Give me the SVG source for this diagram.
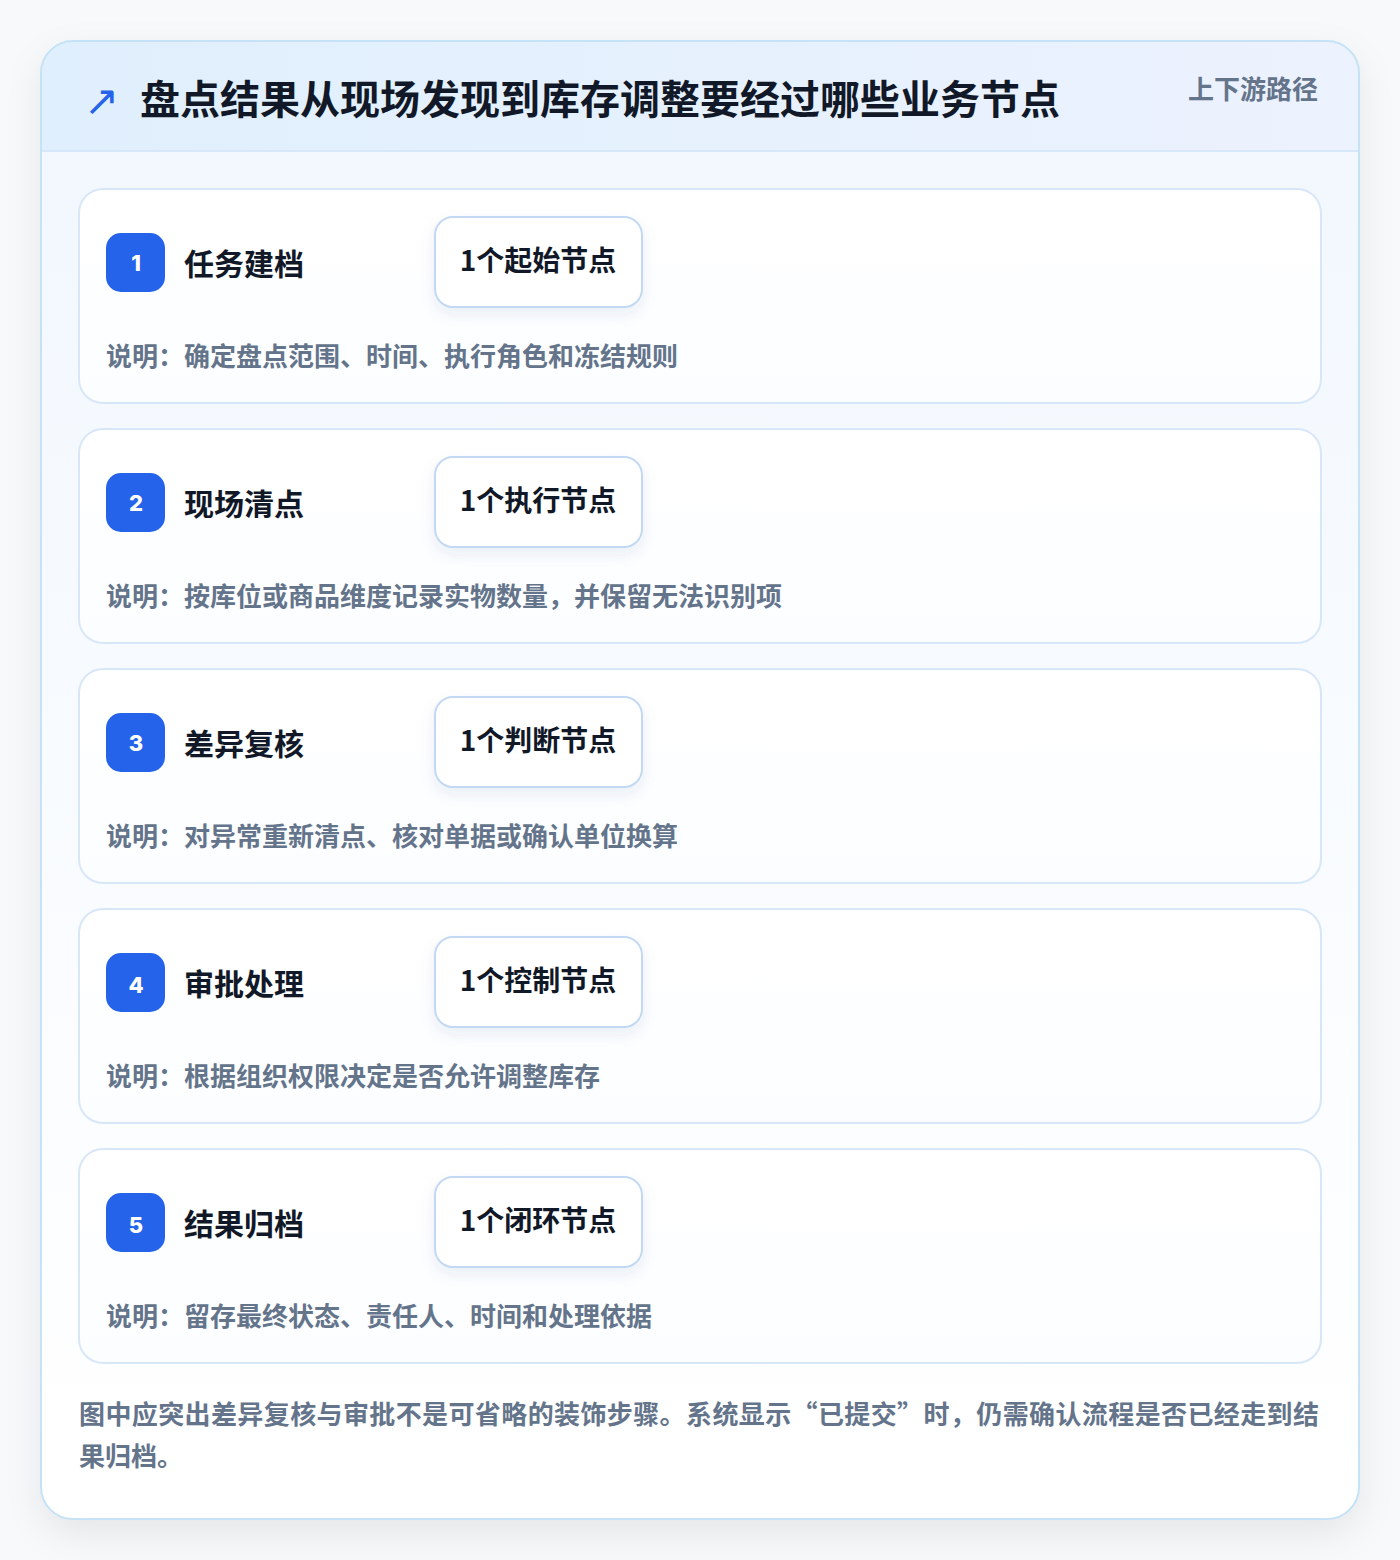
<svg xmlns="http://www.w3.org/2000/svg" width="1400" height="1560" viewBox="0 0 1400 1560">
<defs>
<linearGradient id="bodyGrad" x1="0" y1="0" x2="0" y2="1">
<stop offset="0" stop-color="#f1f7fe"/>
<stop offset="1" stop-color="#ffffff"/>
</linearGradient>
<linearGradient id="headGrad" x1="0" y1="0" x2="1" y2="0">
<stop offset="0" stop-color="#e0effd"/>
<stop offset="1" stop-color="#ecf2fe"/>
</linearGradient>
<linearGradient id="stepGrad" x1="0" y1="0" x2="0" y2="1">
<stop offset="0" stop-color="#ffffff"/>
<stop offset="1" stop-color="#fbfdff"/>
</linearGradient>
<filter id="cardShadow" x="-10%" y="-10%" width="120%" height="120%">
<feDropShadow dx="0" dy="14" stdDeviation="18" flood-color="#0f172a" flood-opacity="0.08"/>
</filter>
<filter id="pillShadow" x="-20%" y="-30%" width="140%" height="170%">
<feDropShadow dx="0" dy="6" stdDeviation="7" flood-color="#1e3a8a" flood-opacity="0.08"/>
</filter>
<clipPath id="cardClip"><rect x="41" y="41" width="1318" height="1478" rx="32"/></clipPath>
</defs>
<style>
.step{fill:url(#stepGrad);stroke:#d8e7f8;stroke-width:2}
.badge{fill:#2563eb}
.num{font-family:Inter,"Liberation Sans",sans-serif;font-weight:800;font-size:22px;fill:#ffffff;text-anchor:middle}
.title{font-family:"Noto Sans CJK SC","Noto Sans",sans-serif;font-weight:700;font-size:30px;fill:#111827}
.pill{fill:#ffffff;stroke:#c2d8f3;stroke-width:2}
.pilltext{font-family:"Noto Sans CJK SC","Noto Sans",sans-serif;font-weight:700;font-size:28px;fill:#111827;text-anchor:middle}
.desc{font-family:"Noto Sans CJK SC","Noto Sans",sans-serif;font-weight:700;font-size:26px;fill:#64748b}
.foot{font-family:"Noto Sans CJK SC","Noto Sans",sans-serif;font-weight:700;font-size:26px;fill:#64748b}
</style>
<rect x="0" y="0" width="1400" height="1560" fill="#f8f9fb"/>
<rect x="41" y="41" width="1318" height="1478" rx="32" fill="url(#bodyGrad)" filter="url(#cardShadow)"/>
<g clip-path="url(#cardClip)">
<rect x="41" y="41" width="1318" height="110" fill="url(#headGrad)"/>
<line x1="41" y1="151" x2="1359" y2="151" stroke="#d6e8fa" stroke-width="2"/>
</g>
<rect x="41" y="41" width="1318" height="1478" rx="32" fill="none" stroke="#c5e2f7" stroke-width="2"/>
<g id="header">
<text x="84" y="115" font-family="'DejaVu Sans',sans-serif" font-size="42" fill="#2563eb">↗</text>
<text x="140" y="114" font-family="'Noto Sans CJK SC','Noto Sans',sans-serif" font-weight="700" font-size="40" fill="#111827">盘点结果从现场发现到库存调整要经过哪些业务节点</text>
<text x="1318" y="99" text-anchor="end" font-family="'Noto Sans CJK SC','Noto Sans',sans-serif" font-weight="700" font-size="26" fill="#64748b">上下游路径</text>
</g>
<g id="step1">
<rect class="step" x="79" y="189" width="1242" height="214" rx="24"/>
<rect class="badge" x="106" y="233" width="59" height="59" rx="15"/>
<text class="num" x="136" y="271">1</text>
<text class="title" x="184" y="275">任务建档</text>
<rect class="pill" x="435" y="217" width="207" height="90" rx="18" filter="url(#pillShadow)"/>
<text class="pilltext" x="538" y="271">1个起始节点</text>
<text class="desc" x="106" y="366">说明：确定盘点范围、时间、执行角色和冻结规则</text>
</g>
<g id="step2">
<rect class="step" x="79" y="429" width="1242" height="214" rx="24"/>
<rect class="badge" x="106" y="473" width="59" height="59" rx="15"/>
<text class="num" x="136" y="511">2</text>
<text class="title" x="184" y="515">现场清点</text>
<rect class="pill" x="435" y="457" width="207" height="90" rx="18" filter="url(#pillShadow)"/>
<text class="pilltext" x="538" y="511">1个执行节点</text>
<text class="desc" x="106" y="606">说明：按库位或商品维度记录实物数量，并保留无法识别项</text>
</g>
<g id="step3">
<rect class="step" x="79" y="669" width="1242" height="214" rx="24"/>
<rect class="badge" x="106" y="713" width="59" height="59" rx="15"/>
<text class="num" x="136" y="751">3</text>
<text class="title" x="184" y="755">差异复核</text>
<rect class="pill" x="435" y="697" width="207" height="90" rx="18" filter="url(#pillShadow)"/>
<text class="pilltext" x="538" y="751">1个判断节点</text>
<text class="desc" x="106" y="846">说明：对异常重新清点、核对单据或确认单位换算</text>
</g>
<g id="step4">
<rect class="step" x="79" y="909" width="1242" height="214" rx="24"/>
<rect class="badge" x="106" y="953" width="59" height="59" rx="15"/>
<text class="num" x="136" y="993">4</text>
<text class="title" x="184" y="995">审批处理</text>
<rect class="pill" x="435" y="937" width="207" height="90" rx="18" filter="url(#pillShadow)"/>
<text class="pilltext" x="538" y="991">1个控制节点</text>
<text class="desc" x="106" y="1086">说明：根据组织权限决定是否允许调整库存</text>
</g>
<g id="step5">
<rect class="step" x="79" y="1149" width="1242" height="214" rx="24"/>
<rect class="badge" x="106" y="1193" width="59" height="59" rx="15"/>
<text class="num" x="136" y="1233">5</text>
<text class="title" x="184" y="1235">结果归档</text>
<rect class="pill" x="435" y="1177" width="207" height="90" rx="18" filter="url(#pillShadow)"/>
<text class="pilltext" x="538" y="1231">1个闭环节点</text>
<text class="desc" x="106" y="1326">说明：留存最终状态、责任人、时间和处理依据</text>
</g>
<g id="connectors"></g>
<g id="footer">
<text class="foot" x="79" y="1424" textLength="1240" lengthAdjust="spacing">图中应突出差异复核与审批不是可省略的装饰步骤。系统显示“已提交”时，仍需确认流程是否已经走到结</text>
<text class="foot" x="79" y="1466">果归档。</text>
</g>
</svg>
